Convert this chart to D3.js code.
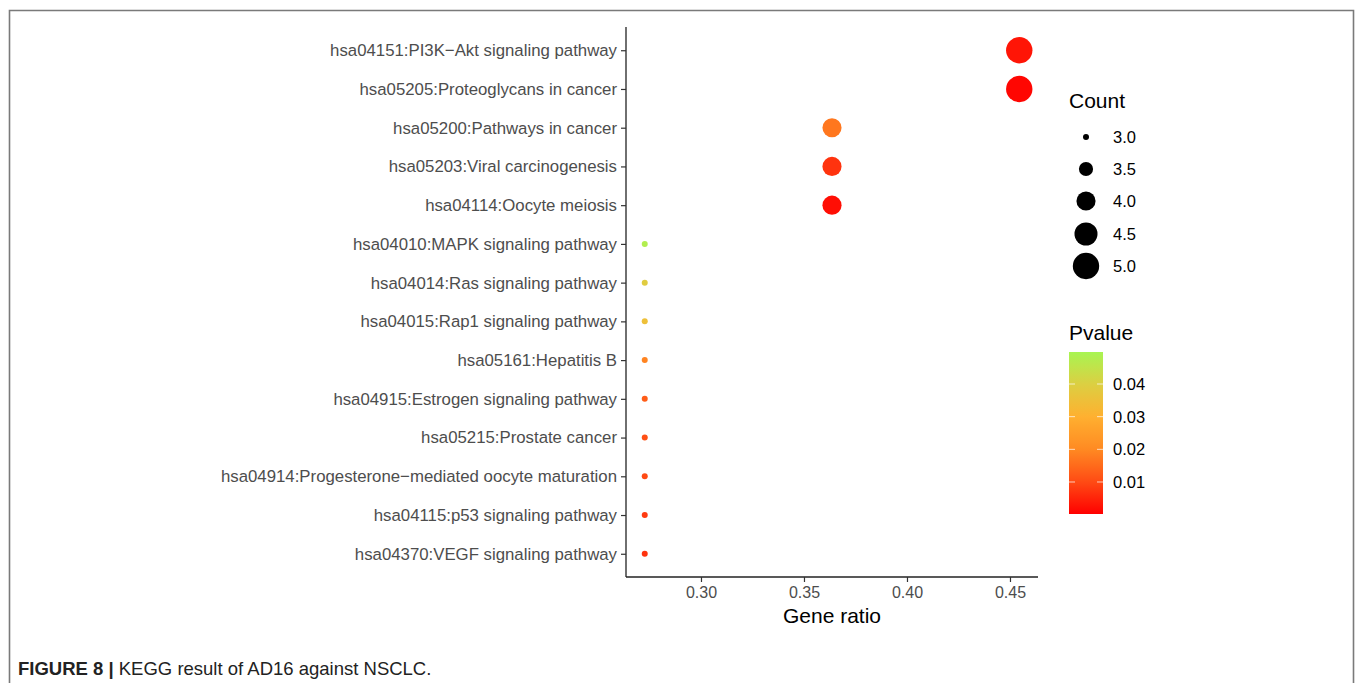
<!DOCTYPE html>
<html>
<head>
<meta charset="utf-8">
<script src="https://cdn.jsdelivr.net/npm/d3@7"></script>
<style>
html,body{margin:0;padding:0;background:#fff;}
svg{display:block;font-family:Arial,"Liberation Sans",sans-serif;}
</style>
</head>
<body>
<svg id="chart" width="1357" height="683"></svg>
<script>
const pathways = [
  "hsa04151:PI3K\u2212Akt signaling pathway",
  "hsa05205:Proteoglycans in cancer",
  "hsa05200:Pathways in cancer",
  "hsa05203:Viral carcinogenesis",
  "hsa04114:Oocyte meiosis",
  "hsa04010:MAPK signaling pathway",
  "hsa04014:Ras signaling pathway",
  "hsa04015:Rap1 signaling pathway",
  "hsa05161:Hepatitis B",
  "hsa04915:Estrogen signaling pathway",
  "hsa05215:Prostate cancer",
  "hsa04914:Progesterone\u2212mediated oocyte maturation",
  "hsa04115:p53 signaling pathway",
  "hsa04370:VEGF signaling pathway"
];
const counts = [5, 5, 4, 4, 4, 3, 3, 3, 3, 3, 3, 3, 3, 3];
const geneRatios = [0.4545, 0.4545, 0.3636, 0.3636, 0.3636, 0.2727, 0.2727, 0.2727, 0.2727, 0.2727, 0.2727, 0.2727, 0.2727, 0.2727];
const pvalues = [0.003, 0.001, 0.017, 0.007, 0.002, 0.048, 0.039, 0.035, 0.019, 0.013, 0.011, 0.010, 0.008, 0.007];
const xTicks = [0.30, 0.35, 0.40, 0.45];
const sizeLegendValues = [3.0, 3.5, 4.0, 4.5, 5.0];
const pTicks = [0.04, 0.03, 0.02, 0.01];

(function () {
const svg = d3.select("#chart");
const FONT = "Arial, 'Liberation Sans', sans-serif";

// frame
svg.append("path").attr("d", "M9.5,683 V10.5 H1353.5 V683")
  .attr("fill", "none").attr("stroke", "#7a7a7a").attr("stroke-width", 1.6);

const pL = 626, pR = 1038, pT = 27, pB = 577;
const x = d3.scaleLinear().domain([0.2636, 0.4636]).range([pL, pR]);
const y = d3.scalePoint().domain(pathways).range([pT, pB]).padding(0.6);
// radius via area-linear mapping
const rad = v => Math.sqrt(9 + (v - 3) / 2 * (174 - 9));
const color = d3.scaleLinear()
  .domain([0.0002, 0.01, 0.02, 0.03, 0.04, 0.0498])
  .range(["#ff0000", "#ff4a14", "#ff8a22", "#ffb030", "#dccf42", "#a8f552"])
  .interpolate(d3.interpolateRgb);

// y axis
const yAxis = d3.axisLeft(y).tickSize(5).tickPadding(4);
const gy = svg.append("g").attr("transform", `translate(${pL},0)`).call(yAxis);
gy.select(".domain").attr("d", `M0,${pT}V${pB}`).attr("stroke", "#222").attr("stroke-width", 1.3);
gy.selectAll(".tick line").attr("stroke", "#333").attr("stroke-width", 1.2);
gy.selectAll(".tick text").attr("fill", "#4d4d4d").style("font-size", "16.8px").style("font-family", FONT);

// x axis
const xAxis = d3.axisBottom(x).tickValues(xTicks).tickFormat(d3.format(".2f")).tickSize(5).tickPadding(5);
const gx = svg.append("g").attr("transform", `translate(0,${pB})`).call(xAxis);
gx.select(".domain").attr("d", `M${pL},0H${pR}`).attr("stroke", "#222").attr("stroke-width", 1.3);
gx.selectAll(".tick line").attr("stroke", "#333").attr("stroke-width", 1.2);
gx.selectAll(".tick text").attr("fill", "#4d4d4d").style("font-size", "16px").style("font-family", FONT);

svg.append("text").attr("x", (pL + pR) / 2).attr("y", 623).attr("text-anchor", "middle")
  .style("font-size", "21px").attr("fill", "#000").text("Gene ratio");

// points
svg.append("g").selectAll("circle").data(pathways).join("circle")
  .attr("cx", (d, i) => x(geneRatios[i]))
  .attr("cy", d => y(d))
  .attr("r", (d, i) => rad(counts[i]))
  .attr("fill", (d, i) => color(pvalues[i]));

// size legend
svg.append("text").attr("x", 1069).attr("y", 108).style("font-size", "21px").attr("fill", "#000").text("Count");
const sy = [137, 169, 201, 234, 266];
const gl = svg.append("g");
gl.selectAll("circle").data(sizeLegendValues).join("circle")
  .attr("cx", 1086).attr("cy", (d, i) => sy[i]).attr("r", d => rad(d)).attr("fill", "#000");
gl.selectAll("text").data(sizeLegendValues).join("text")
  .attr("x", 1113).attr("y", (d, i) => sy[i] + 6)
  .style("font-size", "16.5px").attr("fill", "#000").text(d => d.toFixed(1));

// colour legend
svg.append("text").attr("x", 1069).attr("y", 340).style("font-size", "21px").attr("fill", "#000").text("Pvalue");
const cbTop = 352, cbBot = 514, cbX = 1069, cbW = 34;
const pY = d3.scaleLinear().domain([0.0002, 0.0498]).range([cbBot, cbTop]);
const defs = svg.append("defs");
const grad = defs.append("linearGradient").attr("id", "pgrad").attr("x1", 0).attr("y1", 1).attr("x2", 0).attr("y2", 0);
d3.range(0, 1.0001, 0.05).forEach(t => {
  const v = 0.0002 + t * (0.0498 - 0.0002);
  grad.append("stop").attr("offset", t).attr("stop-color", color(v));
});
svg.append("rect").attr("x", cbX).attr("y", cbTop).attr("width", cbW).attr("height", cbBot - cbTop).attr("fill", "url(#pgrad)");
const ct = svg.append("g");
pTicks.forEach(p => {
  const yy = pY(p);
  ct.append("line").attr("x1", cbX).attr("x2", cbX + 6).attr("y1", yy).attr("y2", yy).attr("stroke", "#fff").attr("stroke-opacity", 0.7).attr("stroke-width", 1);
  ct.append("line").attr("x1", cbX + cbW - 6).attr("x2", cbX + cbW).attr("y1", yy).attr("y2", yy).attr("stroke", "#fff").attr("stroke-opacity", 0.7).attr("stroke-width", 1);
  ct.append("text").attr("x", 1113).attr("y", yy + 6).style("font-size", "16.5px").attr("fill", "#000").text(p.toFixed(2));
});

// caption
const cap = svg.append("text").attr("x", 18).attr("y", 675).style("font-size", "18.5px").attr("fill", "#222");
cap.append("tspan").style("font-weight", "bold").text("FIGURE 8 | ");
cap.append("tspan").text("KEGG result of AD16 against NSCLC.");
})();
</script>
</body>
</html>
